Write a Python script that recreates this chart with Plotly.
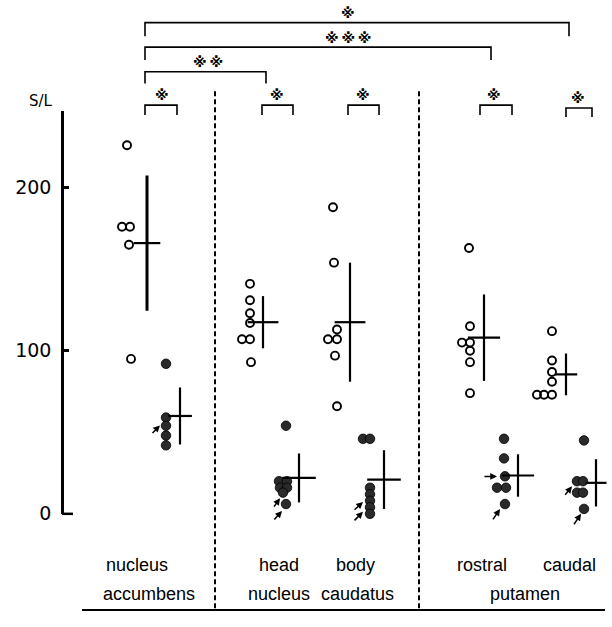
import plotly.graph_objects as go

# ---------------- data ----------------
regions = ["nucleus accumbens", "head nucleus", "body caudatus", "rostral putamen", "caudal putamen"]
label_row1 = ["nucleus", "head", "body", "rostral", "caudal"]
label_row2 = ["accumbens", "nucleus", "caudatus", "putamen"]

open_acc = [226, 176, 176, 165, 95]
open_head = [141, 131, 123, 117, 107, 107, 93]
open_body = [188, 154, 113, 107, 107, 97, 66]
open_rostral = [163, 115, 105, 105, 100, 93, 74]
open_caudal = [112, 94, 87, 81, 73, 73, 73]

filled_acc = [92, 59, 54, 48, 42]
filled_head = [54, 20, 20, 16, 16, 13, 6]
filled_body = [46, 46, 16, 12, 8, 4, 0]
filled_rostral = [46, 34, 23, 16, 16, 6]
filled_caudal = [45, 20, 20, 13, 13, 3]

open_mean = [166, 117.5, 117.5, 108, 85.5]
open_sd = [41.5, 16, 36.5, 26.5, 12.8]
filled_mean = [60, 22, 21, 23.5, 19]
filled_sd = [17.5, 15, 18, 13, 14.5]

tick_vals = [0, 100, 200]
tick_text = ["0", "100", "200"]
y_label = "S/L"

# ---------------- layout helpers (positions / styles) ----------------
W, H = 612, 627
AX_X = 62          # pixel x of y-axis
Y0_PX, YTOP_PX = 523, 113
PX_PER = 1.66
YMAX = (Y0_PX - YTOP_PX) / PX_PER

def py(px):
    return 1 - px / H

open_vals = [open_acc, open_head, open_body, open_rostral, open_caudal]
filled_vals = [filled_acc, filled_head, filled_body, filled_rostral, filled_caudal]

open_x = [129, 250, 335, 470, 552]
filled_x = [166, 285, 370, 505, 583]
open_dx = [[-2, -7, 1, 0, 2],
           [0, 0, 0, 0, -8, 0, 1],
           [-2, -1, 2, -7, 2, 0, 2],
           [-1, 0, -8, 0, 0, 0, 0],
           [0, 0, 0, 0, -15, -8, 0]]
filled_dx = [[0, 0, 0, 0, 0],
             [1, -6, 2, -5, 2, -2, 1],
             [-7, 0, 0, 0, 0, 0, 0],
             [-1, -1, 0, -8, 1, 0],
             [1, -6, 0, -6, 0, 1]]
open_cross_dx = [18, 13, 15, 14, 14]
filled_cross_dx = [14, 14, 14, 13, 13]
open_bar_w = [19, 22, 22, 23, 16]
filled_bar_w = [17, 24, 24, 23, 15]
open_thick = [3, 2.2, 2.2, 2.2, 2.2]

fig = go.Figure()

for i in range(len(regions)):
    fig.add_trace(go.Scatter(
        x=[open_x[i] + d for d in open_dx[i]], y=open_vals[i], mode="markers",
        marker=dict(symbol="circle-open", size=8, color="black", line=dict(width=1.9, color="black")),
        cliponaxis=False, showlegend=False, name=regions[i] + " open"))
    fig.add_trace(go.Scatter(
        x=[filled_x[i] + d for d in filled_dx[i]], y=filled_vals[i], mode="markers",
        marker=dict(symbol="circle", size=9.5, color="#2a2a2a", line=dict(width=0.8, color="black")),
        cliponaxis=False, showlegend=False, name=regions[i] + " filled"))
    fig.add_trace(go.Scatter(
        x=[open_x[i] + open_cross_dx[i]], y=[open_mean[i]], mode="markers",
        marker=dict(symbol="line-ew", size=open_bar_w[i], color="black", line=dict(width=2.2, color="black")),
        error_y=dict(type="data", array=[open_sd[i]], width=0, thickness=open_thick[i], color="black"),
        cliponaxis=False, showlegend=False))
    fig.add_trace(go.Scatter(
        x=[filled_x[i] + filled_cross_dx[i]], y=[filled_mean[i]], mode="markers",
        marker=dict(symbol="line-ew", size=filled_bar_w[i], color="black", line=dict(width=2.2, color="black")),
        error_y=dict(type="data", array=[filled_sd[i]], width=0, thickness=2.2, color="black"),
        cliponaxis=False, showlegend=False))

shapes = []
line_blk = dict(color="black", width=1.6)

# foot of the axis at 0
shapes.append(dict(type="line", xref="x", yref="paper", x0=AX_X, x1=AX_X + 11,
                   y0=py(Y0_PX), y1=py(Y0_PX), line=dict(color="black", width=2.5)))
# dashed separators
for xs in [215, 419]:
    shapes.append(dict(type="line", xref="x", yref="paper", x0=xs, x1=xs,
                       y0=py(93), y1=py(621), line=dict(color="black", width=2, dash="5px,3px")))
# bottom line
shapes.append(dict(type="line", xref="x", yref="paper", x0=82, x1=605,
                   y0=py(621), y1=py(621), line=dict(color="black", width=2)))

TS = "\u2009"
# significance brackets: (x0, x1, top_px, leg_px, star text, star_x, star_y_px)
brackets = [
    (145, 569, 23, 14, "※", 348, 13),
    (145, 491, 48, 13, TS.join(["※"] * 3), 348, 39),
    (145, 266, 73, 12, TS.join(["※"] * 2), 208, 63),
    (145, 177, 107, 10, "※", 162, 97),
    (262, 293, 107, 10, "※", 277, 97),
    (348, 379, 107, 10, "※", 363, 97),
    (480, 512, 107, 10, "※", 494, 97),
    (566, 592, 110, 9, "※", 578, 100),
]
annotations = []
for x0, x1, t, leg, txt, sx, sy in brackets:
    path = "M {a},{b} L {a},{c} L {d},{c} L {d},{b}".format(a=x0, b=py(t + leg), c=py(t), d=x1)
    shapes.append(dict(type="path", xref="x", yref="paper", path=path, line=line_blk))
    annotations.append(dict(x=sx, y=py(sy), xref="x", yref="paper", text="<b>" + txt + "</b>",
                            showarrow=False,
                            font=dict(family="DejaVu Sans", size=14, color="black"),
                            xanchor="center", yanchor="middle"))

# small arrows (tip x, tip value, tail dx px, tail dy px)
arrows = [(160, 54.2, -9, 9), (280, 9.6, -7, 10), (282, 1.8, -9, 10),
          (363, 7.2, -10, 9), (363, 1.2, -10, 10), (497, 22.9, -14, 0),
          (500, 3, -8, 12), (572, 16.9, -8, 10), (581, 0, -8, 12)]
for x, v, ax, ay in arrows:
    annotations.append(dict(x=x, y=v, xref="x", yref="y", ax=ax, ay=ay, text="",
                            showarrow=True, arrowhead=2, arrowsize=0.9, arrowwidth=1.5,
                            arrowcolor="black", standoff=0))

lab_font = dict(family="Liberation Sans", size=18, color="black")
row1_x = [137, 279, 355, 482, 569]
row2_x = [149, 279, 357, 525]
for t, x in zip(label_row1, row1_x):
    annotations.append(dict(x=x, y=py(575), xref="x", yref="paper", text=t, showarrow=False,
                            font=lab_font, xanchor="center", yanchor="middle"))
for t, x in zip(label_row2, row2_x):
    annotations.append(dict(x=x, y=py(605), xref="x", yref="paper", text=t, showarrow=False,
                            font=lab_font, xanchor="center", yanchor="middle"))

annotations.append(dict(x=41, y=py(103), xref="x", yref="paper", text=y_label, showarrow=False,
                        font=dict(family="DejaVu Sans", size=15, color="black"),
                        xanchor="center", yanchor="middle"))

fig.update_layout(
    width=W, height=H, margin=dict(l=0, r=0, t=0, b=0),
    paper_bgcolor="white", plot_bgcolor="white",
    showlegend=False,
    xaxis=dict(range=[0, W], domain=[0, 1], visible=False, fixedrange=True),
    yaxis=dict(range=[0, YMAX], domain=[py(Y0_PX), py(YTOP_PX)], anchor="free",
               position=AX_X / W, showline=True, linewidth=2.5, linecolor="black",
               ticks="inside", ticklen=5, tickwidth=2.5, tickcolor="black",
               tickvals=tick_vals, ticktext=tick_text, ticklabelstandoff=6,
               tickfont=dict(family="DejaVu Sans", size=19, color="black"),
               showgrid=False, zeroline=False, fixedrange=True),
    shapes=shapes, annotations=annotations,
)

fig.write_html("out.html")
